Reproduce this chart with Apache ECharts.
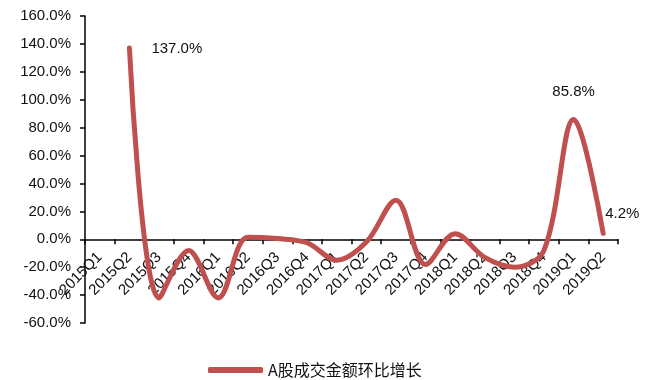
<!DOCTYPE html>
<html>
<head>
<meta charset="utf-8">
<script src="https://cdn.jsdelivr.net/npm/echarts@6/dist/echarts.min.js"></script>
<style>
  html, body { margin: 0; padding: 0; background: #fff; }
  #chart { width: 652px; height: 380px; }
</style>
</head>
<body>
<div id="chart"></div>
<script>
// Quarterly categories
const quarters = ['2015Q1', '2015Q2', '2015Q3', '2015Q4', '2016Q1', '2016Q2', '2016Q3', '2016Q4',
  '2017Q1', '2017Q2', '2017Q3', '2017Q4', '2018Q1', '2018Q2', '2018Q3', '2018Q4', '2019Q1', '2019Q2'];

// Quarter-on-quarter growth of A-share turnover (%)
const growth = [null, 137.0, -42.0, -8.0, -42.0, 1.5, 0.5, -2.5,
  -15.0, -2.0, 28.0, -18.0, 4.0, -13.0, -20.0, -8.0, 85.8, 4.2];

const seriesName = 'A股成交金额环比增长';
const yTicks = { min: -60, max: 160, step: 20 };

const lineColor = '#C0504D';
const font = 'Liberation Sans, Arial, sans-serif';

// Only a few points carry a value label
const labelled = {
  1: { position: 'right', distance: 22, offset: [0, 1] },
  16: { position: 'top', distance: 20 },
  17: { position: 'right', distance: 2, offset: [0, -20] }
};

const seriesData = growth.map((v, i) => {
  const item = { value: v };
  if (labelled[i]) {
    item.label = Object.assign({
      show: true,
      formatter: (p) => p.value.toFixed(1) + '%',
      color: '#111',
      fontSize: 15,
      fontFamily: font
    }, labelled[i]);
  }
  return item;
});

const chart = echarts.init(document.getElementById('chart'), null, { renderer: 'canvas' });
chart.setOption({
  animation: false,
  backgroundColor: '#fff',
  grid: { left: 85, right: 34, top: 16, bottom: 57, containLabel: false },
  legend: {
    top: 357,
    left: 203,
    icon: 'roundRect',
    itemWidth: 55,
    itemHeight: 6,
    itemGap: 6,
    textStyle: { fontSize: 16, color: '#111', fontFamily: 'Noto Sans CJK SC, sans-serif' },
    data: [{ name: seriesName, itemStyle: { color: lineColor } }]
  },
  xAxis: {
    type: 'category',
    data: quarters,
    boundaryGap: true,
    axisLine: { onZero: true, lineStyle: { color: '#000', width: 1.5 } },
    axisTick: { show: true, alignWithLabel: false, length: 5, lineStyle: { color: '#000', width: 1.5 } },
    // labels sit just under the zero line rather than at the grid bottom
    axisLabel: { rotate: 45, interval: 0, margin: -68, color: '#111', fontSize: 15, fontFamily: font }
  },
  yAxis: {
    type: 'value',
    min: yTicks.min,
    max: yTicks.max,
    interval: yTicks.step,
    axisLine: { show: true, lineStyle: { color: '#000', width: 1.5 } },
    axisTick: { show: true, inside: false, length: 5, lineStyle: { color: '#000', width: 1.5 } },
    splitLine: { show: false },
    axisLabel: {
      margin: 14,
      color: '#111',
      fontSize: 15,
      fontFamily: font,
      formatter: (v) => v.toFixed(1) + '%'
    }
  },
  series: [{
    name: seriesName,
    type: 'line',
    data: seriesData,
    smooth: 0.35,
    showSymbol: true,
    symbol: 'circle',
    symbolSize: 0,
    connectNulls: false,
    lineStyle: { color: lineColor, width: 5, cap: 'round', join: 'round' },
    itemStyle: { color: lineColor }
  }]
});
</script>
</body>
</html>
